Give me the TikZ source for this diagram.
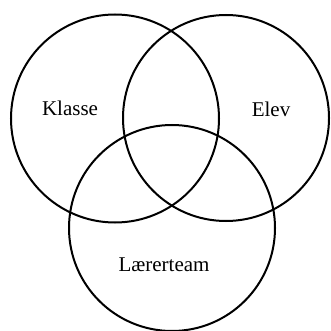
\documentclass[tikz,border=0pt]{standalone}
\usepackage{fontspec}
\setmainfont{Liberation Serif}
\begin{document}
\begin{tikzpicture}[x=1pt,y=-1pt,
  ring/.style={draw=black,line width=2pt},
  lbl/.style={anchor=base,inner sep=0pt,font=\fontsize{21}{24}\selectfont}]
\useasboundingbox (0,0) rectangle (330,331);
\draw[ring] (115,118.5) circle (104);
\draw[ring] (226,118) circle (103);
\draw[ring] (172,228) circle (103);
\node[lbl] (klasse) at (70,116) {Klasse};
\node[lbl] (elev) at (271,116.5) {Elev};
\node[lbl] (laerer) at (164,271.5) {Lærerteam};
\end{tikzpicture}
\end{document}
